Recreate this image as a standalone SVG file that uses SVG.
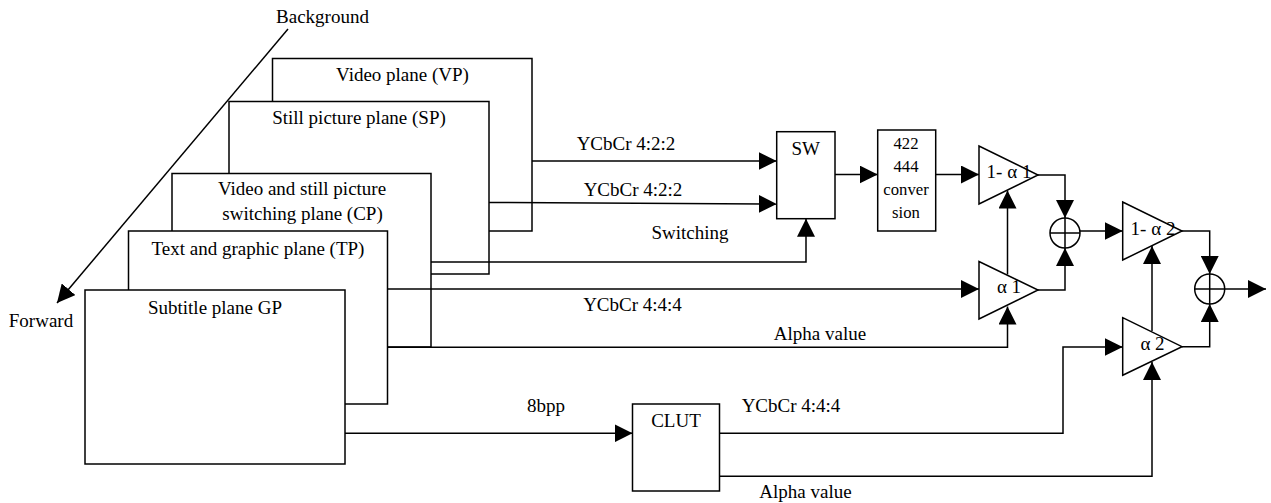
<svg xmlns="http://www.w3.org/2000/svg" width="1271" height="503" viewBox="0 0 1271 503">
<style>
text{font-family:"Liberation Serif","Times New Roman",serif;font-size:19px;fill:#000;text-anchor:middle}
.f{font-size:16.7px}
.s{fill:#fff;stroke:#000;stroke-width:1.5}
.n{fill:none;stroke:#000;stroke-width:1.5}
.c path{fill:none;stroke:#000;stroke-width:1.5;marker-end:url(#a)}
</style>
<defs><marker id="a" viewBox="0 0 18 18" refX="18" refY="9" markerWidth="18" markerHeight="18" markerUnits="userSpaceOnUse" orient="auto"><path d="M0 0L18 9L0 18Z" fill="#000" stroke="none"/></marker></defs>
<rect width="1271" height="503" fill="#fff"/>
<g id="vp"><rect class="s" x="272.500" y="58.500" width="259.500" height="172.500"/><text x="402.500" y="81">Video plane (VP)</text></g>
<g id="sp"><rect class="s" x="229" y="101.500" width="260" height="172.500"/><text x="359" y="124">Still picture plane (SP)</text></g>
<g id="cp"><rect class="s" x="172" y="173.500" width="259" height="173.500"/><text x="302" y="195">Video and still picture</text><text x="302.500" y="220">switching plane (CP)</text></g>
<g id="tp"><rect class="s" x="128.500" y="231" width="259" height="173"/><text x="258" y="255">Text and graphic plane (TP)</text></g>
<g id="gp"><rect class="s" x="85" y="290" width="260" height="174"/><text x="215" y="314">Subtitle plane GP</text></g>
<g id="sw"><rect class="s" x="776.700" y="131.700" width="58.300" height="87"/><text x="805.700" y="155">SW</text></g>
<g id="conv"><rect class="s" x="877.700" y="130" width="58" height="101"/><text class="f" x="906" y="149">422</text><text class="f" x="906" y="172">444</text><text class="f" x="906" y="195">conver</text><text class="f" x="906" y="218">sion</text></g>
<g id="clut"><rect class="s" x="632.500" y="404" width="87" height="87"/><text x="676" y="427">CLUT</text></g>
<g id="t1"><path class="s" d="M979 146V204L1038 175Z"/><text x="1009" y="178">1- α 1</text></g>
<g id="t2"><path class="s" d="M979 261.500V319L1038 290Z"/><text x="1009" y="293">α 1</text></g>
<g id="t3"><path class="s" d="M1122.700 202V260L1182 231Z"/><text x="1153" y="235">1- α 2</text></g>
<g id="t4"><path class="s" d="M1122.700 317.700V375.300L1182 346.700Z"/><text x="1152.500" y="350">α 2</text></g>
<g id="p1"><circle class="s" cx="1065" cy="233" r="15"/><path class="n" d="M1050 233H1080M1065 218V248"/></g>
<g id="p2"><circle class="s" cx="1209.700" cy="289" r="15"/><path class="n" d="M1194.700 289H1224.700M1209.700 274V304"/></g>
<g id="connectors" class="c">
<path d="M532 161H776.700"/><path d="M489 202.500L776.700 204"/><path d="M431 262H806V218.700"/>
<path d="M388 289H979"/><path d="M388 347.300H1007.500V306.500"/><path d="M835 174.500H877.700"/><path d="M935.700 174.500H979"/>
<path d="M1007.500 274.500V190.500"/><path d="M1038 175H1065V218"/><path d="M1038 290H1065V248"/><path d="M1080 231H1122.700"/>
<path d="M1152 331V246"/><path d="M1182 231H1209.700V274"/><path d="M1182 346.700H1209.700V304"/><path d="M1224.700 289H1266"/>
<path d="M345 433.300H632.500"/><path d="M719.500 433.300H1063V347H1122.700"/><path d="M719.500 476.300H1152V362"/>
<path d="M288 29L57 303"/>
</g>
<g id="labels">
<text x="322.500" y="23">Background</text><text x="41" y="327">Forward</text>
<text x="626" y="150">YCbCr 4:2:2</text><text x="633" y="196">YCbCr 4:2:2</text><text x="690" y="238.500">Switching</text>
<text x="632.500" y="311">YCbCr 4:4:4</text><text x="820" y="340">Alpha value</text><text x="546" y="411.700">8bpp</text>
<text x="791" y="411.700">YCbCr 4:4:4</text><text x="805.500" y="497.700">Alpha value</text>
</g>
</svg>
